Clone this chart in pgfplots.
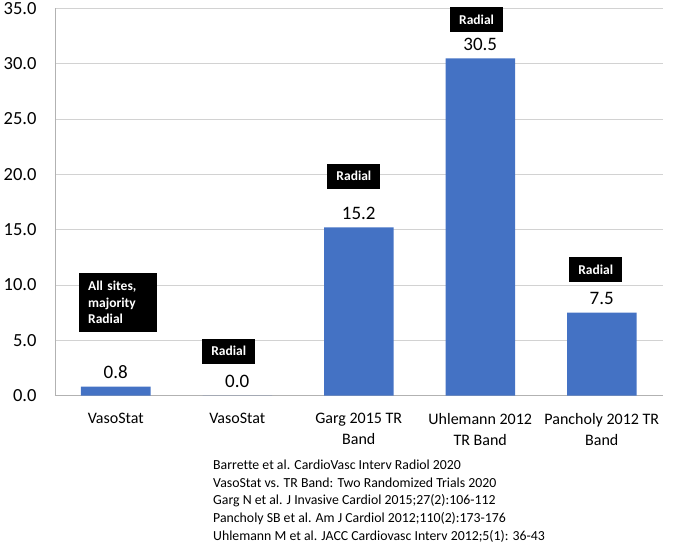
\documentclass[border=0pt]{standalone}
\usepackage{fontspec}
\setmainfont{Carlito}[Ligatures=NoCommon]
\usepackage{pgfplots}
\pgfplotsset{compat=1.18}
\definecolor{barblue}{HTML}{4472C4}
\begin{document}
\begin{tikzpicture}
\path[use as bounding box] (0,0) rectangle (680pt,544pt);
\begin{axis}[
  at={(55pt,148.5pt)}, anchor=south west,
  scale only axis, width=607.5pt, height=387pt,
  xmin=-0.5, xmax=4.5, ymin=0, ymax=35,
  ytick={0,5,...,35},
  xtick={0,1,2,3,4},
  xticklabels={VasoStat,VasoStat,Garg 2015 TR\\Band,Uhlemann 2012\\TR Band,Pancholy 2012 TR\\Band},
  xticklabel style={align=center, font=\fontsize{16}{21}\selectfont, yshift=-14pt},
  yticklabel style={font=\fontsize{18.5}{20}\selectfont, xshift=-15pt},
  /pgf/number format/assume math mode=true,
  yticklabel={\pgfmathprintnumber[fixed,fixed zerofill,precision=1]{\tick}},
  axis x line*=bottom, axis y line*=left,
  axis line style={draw=gray!60, line width=0.8pt},
  ymajorgrids, grid style={draw=gray!35, line width=0.8pt},
  major tick length=0pt,
  ybar, bar width=69.5pt,
  nodes near coords={\pgfmathprintnumber[fixed,fixed zerofill,precision=1]{\pgfplotspointmeta}},
  nodes near coords style={font=\fontsize{19}{20}\selectfont, text=black, yshift=4pt},
  clip=false,
]
\addplot[fill=barblue, draw=none] coordinates {(0,0.8) (1,0.0) (2,15.2) (3,30.5) (4,7.5)};
\tikzset{rbox/.style={fill=black, text=white, font=\bfseries\fontsize{13.5}{16.5}\selectfont, inner xsep=9pt, inner ysep=0pt, minimum height=25pt}}
\node[rbox, align=left, text width=60pt, minimum height=59pt] at (axis cs:0.02,8.4) {All sites,\\majority\\Radial};
\node[rbox] at (axis cs:0.93,4.0) {Radial};
\node[rbox] at (axis cs:1.96,19.85) {Radial};
\node[rbox] at (axis cs:2.97,34.0) {Radial};
\node[rbox] at (axis cs:3.95,11.4) {Radial};
\end{axis}
\node[anchor=north west, align=left, font=\fontsize{13.8}{17.6}\selectfont, inner sep=0pt] at (213pt,84pt)
{Barrette et al. CardioVasc Interv Radiol 2020\\
VasoStat vs. TR Band: Two Randomized Trials 2020\\
Garg N et al. J Invasive Cardiol 2015;27(2):106-112\\
Pancholy SB et al. Am J Cardiol 2012;110(2):173-176\\
Uhlemann M et al. JACC Cardiovasc Interv 2012;5(1): 36-43};
\end{tikzpicture}
\end{document}
